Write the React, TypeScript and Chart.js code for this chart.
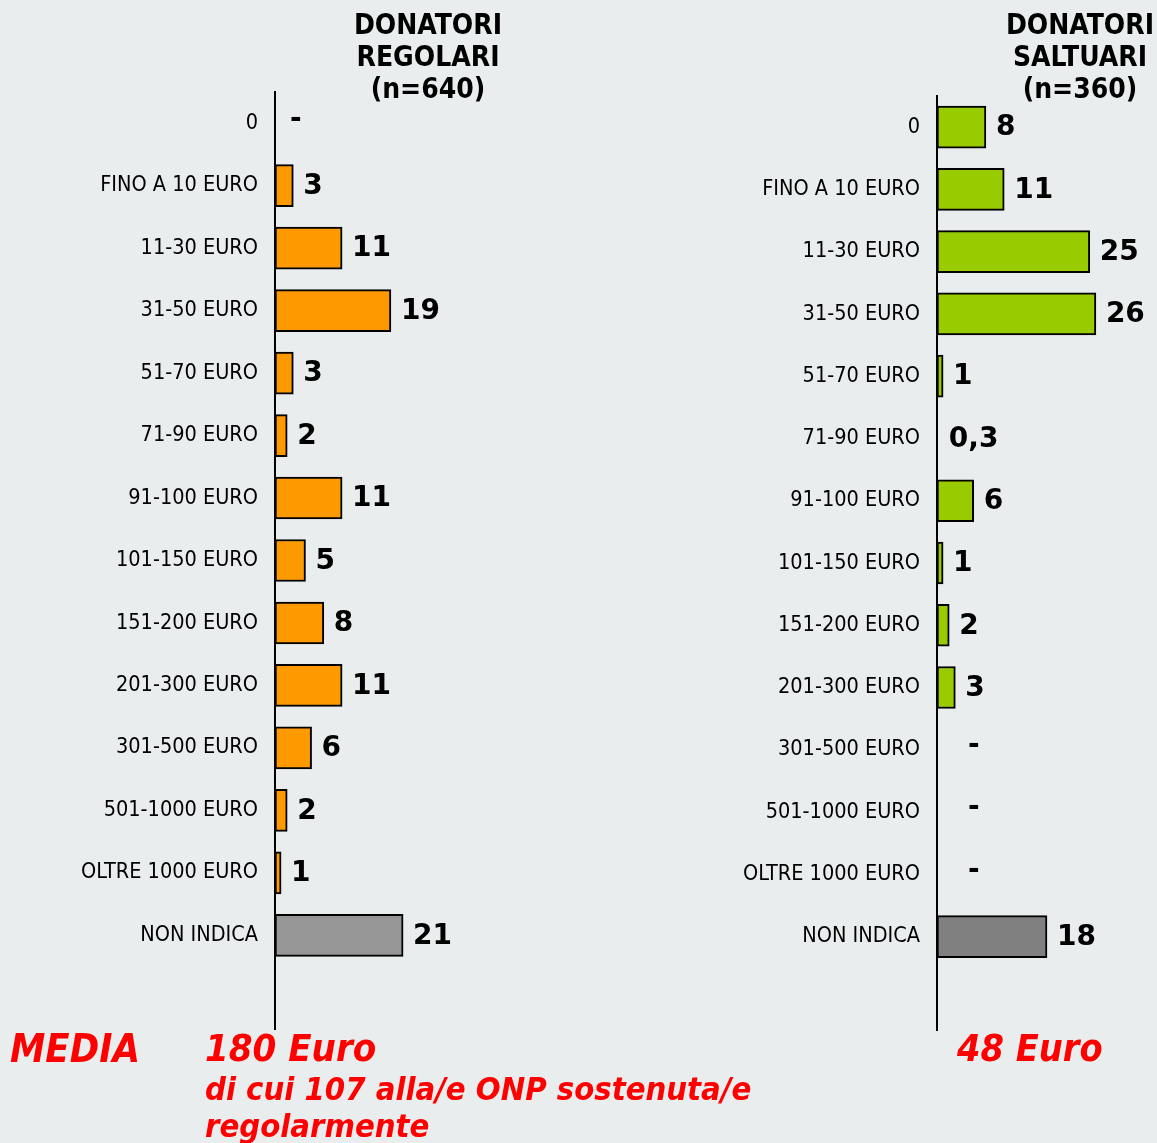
import React, { useEffect, useRef } from 'react';
import { Chart, registerables } from 'chart.js';

Chart.register(...registerables);

// ---- Data ----
const categories = [
  '0',
  'FINO A 10 EURO',
  '11-30 EURO',
  '31-50 EURO',
  '51-70 EURO',
  '71-90 EURO',
  '91-100 EURO',
  '101-150 EURO',
  '151-200 EURO',
  '201-300 EURO',
  '301-500 EURO',
  '501-1000 EURO',
  'OLTRE 1000 EURO',
  'NON INDICA',
  '',
];
const regolariValues = [0, 3, 11, 19, 3, 2, 11, 5, 8, 11, 6, 2, 1, 21];
const saltuariValues = [8, 11, 25, 26, 1, 0.3, 6, 1, 2, 3, 0, 0, 0, 18];

const regolariTitle = ['DONATORI', 'REGOLARI', '(n=640)'];
const saltuariTitle = ['DONATORI', 'SALTUARI', '(n=360)'];
const mediaLabel = 'MEDIA';
const regolariMedia = '180 Euro';
const regolariMediaNote = ['di cui 107 alla/e ONP sostenuta/e', 'regolarmente'];
const saltuariMedia = '48 Euro';

const FONT = '"DejaVu Sans", Verdana, sans-serif';
const COND = '"DejaVu Sans Condensed", "DejaVu Sans", sans-serif';
const BG = '#E9EDED';

function makeValuePlugin(dashOffset: number) {
  return {
    id: 'valueLabels',
    afterDatasetsDraw(chart: any) {
      const ctx = chart.ctx;
      const meta = chart.getDatasetMeta(0);
      const data = chart.data.datasets[0].data as number[];
      ctx.save();
      ctx.font = `bold 28px ${FONT}`;
      ctx.fillStyle = '#000';
      ctx.textBaseline = 'middle';
      ctx.textAlign = 'left';
      meta.data.forEach((bar: any, i: number) => {
        const v = data[i];
        if (v == null) return;
        if (v === 0) {
          ctx.fillText('-', bar.base + dashOffset, bar.y - 4);
        } else {
          const txt = String(v).replace('.', ',');
          ctx.fillText(txt, bar.x + 10, bar.y + 1);
        }
      });
      ctx.restore();
    },
  };
}

interface PanelProps {
  left: number;
  width: number;
  axisX: number;
  top: number;
  bottom: number;
  xMax: number;
  values: number[];
  color: string;
  lastColor: string;
  dashOffset: number;
}

function Panel(props: PanelProps) {
  const ref = useRef<HTMLCanvasElement>(null);
  useEffect(() => {
    const canvas = ref.current;
    if (!canvas) return;
    const { values, color, lastColor, axisX, left, top, bottom, xMax, dashOffset } = props;
    const last = values.length - 1;
    const chart = new Chart(canvas, {
      type: 'bar',
      data: {
        labels: categories,
        datasets: [
          {
            data: values,
            backgroundColor: (c: any) =>
              (c.raw ?? 0) < 0.5 ? 'rgba(0,0,0,0)' : c.dataIndex === last ? lastColor : color,
            borderColor: '#000',
            borderWidth: (c: any) => ((c.raw ?? 0) < 0.5 ? 0 : 2),
            borderSkipped: false,
            barThickness: 42,
          },
        ],
      },
      options: {
        indexAxis: 'y',
        responsive: false,
        animation: false,
        layout: { padding: { top, bottom, left: 0, right: 0 } },
        plugins: {
          legend: { display: false },
          tooltip: { enabled: false },
        },
        scales: {
          x: {
            display: false,
            min: 0,
            max: xMax,
          },
          y: {
            afterFit: (scale: any) => {
              scale.width = axisX - left;
            },
            grid: { display: false, drawTicks: false },
            border: { display: true, color: '#000', width: 2 },
            ticks: {
              color: '#000',
              padding: 17,
              font: { family: COND, size: 21.5 },
            },
          },
        },
      },
      plugins: [makeValuePlugin(dashOffset)],
    } as any);
    return () => chart.destroy();
  }, []);
  return (
    <canvas
      ref={ref}
      width={props.width}
      height={1143}
      style={{ position: 'absolute', left: props.left, top: 0, width: props.width, height: 1143 }}
    />
  );
}

function Title({ lines, cx }: { lines: string[]; cx: number }) {
  return (
    <div
      style={{
        position: 'absolute',
        left: cx - 120,
        width: 240,
        top: 9,
        textAlign: 'center',
        fontFamily: COND,
        fontStretch: 'condensed',
        fontWeight: 'bold',
        fontSize: 28,
        lineHeight: '32px',
        color: '#000',
      }}
    >
      {lines.map((l, i) => (
        <div key={i}>{l}</div>
      ))}
    </div>
  );
}

const redStyle: React.CSSProperties = {
  position: 'absolute',
  fontFamily: COND,
  fontStretch: 'condensed',
  fontWeight: 'bold',
  fontStyle: 'italic',
  color: '#FF0000',
  whiteSpace: 'nowrap',
};

export default function App() {
  return (
    <div
      style={{
        position: 'fixed',
        left: 0,
        top: 0,
        width: 1157,
        height: 1143,
        background: BG,
        overflow: 'hidden',
      }}
    >
      <Panel
        left={0}
        width={580}
        axisX={275}
        top={92}
        bottom={114}
        xMax={50}
        values={regolariValues}
        color="#FF9900"
        lastColor="#969696"
        dashOffset={15}
      />
      <Panel
        left={580}
        width={577}
        axisX={937}
        top={96}
        bottom={113}
        xMax={36}
        values={saltuariValues}
        color="#99CC00"
        lastColor="#808080"
        dashOffset={31}
      />
      <Title lines={regolariTitle} cx={428} />
      <Title lines={saltuariTitle} cx={1080} />
      <div style={{ ...redStyle, left: 10, top: 1028, fontSize: 39.5, lineHeight: '40px' }}>{mediaLabel}</div>
      <div style={{ ...redStyle, left: 205, top: 1028, fontSize: 38, lineHeight: '40px' }}>{regolariMedia}</div>
      <div style={{ ...redStyle, left: 205, top: 1071, fontSize: 32.5, lineHeight: '37px' }}>
        {regolariMediaNote.map((l, i) => (
          <div key={i}>{l}</div>
        ))}
      </div>
      <div style={{ ...redStyle, left: 957, top: 1028, fontSize: 37.5, lineHeight: '40px' }}>{saltuariMedia}</div>
    </div>
  );
}
